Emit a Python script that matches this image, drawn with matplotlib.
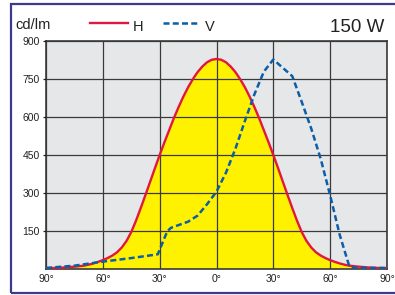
import numpy as np
import matplotlib
matplotlib.use('Agg')
import matplotlib.pyplot as plt
from matplotlib.patches import Rectangle

plt.rcParams['font.family'] = ['Liberation Sans', 'DejaVu Sans']

# data: luminous intensity (cd/klm) vs angle
angle_h = [-90, -85, -80, -75, -70, -67.5, -65, -62.5, -60, -57.5, -55, -52.5, -50, -47.5, -45,
           -42.5, -40, -37.5, -35, -32.5, -30, -27.5, -25, -22.5, -20, -17.5, -15, -12.5, -10,
           -7.5, -5, -2.5, 0, 2.5, 5, 7.5, 10, 12.5, 15, 17.5, 20, 22.5, 25, 27.5, 30, 32.5,
           35, 37.5, 40, 42.5, 45, 47.5, 50, 52.5, 55, 57.5, 60, 62.5, 65, 67.5, 70, 75, 80, 85, 90]
val_h = [2, 3, 5, 8, 12, 16, 21, 27, 34, 42, 52, 65, 84, 110, 145,
         190, 240, 292, 345, 398, 450, 500, 548, 596, 640, 681, 718, 750, 778,
         800, 817, 827, 830, 827, 817, 800, 778, 750, 718, 681, 640, 596, 548, 500, 450, 398,
         345, 292, 240, 190, 145, 110, 84, 65, 52, 42, 34, 27, 21, 16, 12, 8, 5, 3, 2]

angle_v = [-90, -75, -60, -45, -31, -26, -24, -15, -10, -5, 0, 5, 10, 15, 20, 25, 30,
           35, 40, 45, 50, 55, 60, 65, 70, 72, 80, 90]
val_v = [3, 12, 28, 42, 57, 148, 162, 186, 210, 255, 305, 380, 475, 585, 690, 780, 828,
         795, 762, 660, 555, 435, 290, 135, 12, 4, 3, 3]

yticks = [150, 300, 450, 600, 750, 900]
xticks = [-90, -60, -30, 0, 30, 60, 90]
xticklabels = ['90°', '60°', '30°', '0°', '30°', '60°', '90°']

fig = plt.figure(figsize=(3.95, 2.95), dpi=100)
ax = fig.add_axes([46 / 395, 1 - 268.7 / 295, 341 / 395, 227.4 / 295])
ax.set_facecolor('#e6e7e9')

ax.fill_between(angle_h, val_h, 0, color='#fff200', lw=0, zorder=1)
ax.plot(angle_h, val_h, color='#e2173d', lw=1.7, zorder=3)
ax.plot(angle_v, val_v, color='#0b5ea8', lw=1.8, dashes=(2.4, 1.3), zorder=4)

ax.set_xlim(-90, 90)
ax.set_ylim(0, 900)
ax.set_xticks(xticks)
ax.set_xticklabels(xticklabels)
ax.set_yticks(yticks)
ax.grid(True, color='#3a3a3a', lw=0.9)
ax.set_axisbelow(False)
ax.tick_params(axis='x', length=0, pad=4, labelsize=7.5, colors='#222222')
ax.tick_params(axis='y', length=2.5, width=0.9, pad=2, labelsize=7.5, colors='#222222')
for s in ax.spines.values():
    s.set_color('#3a3a3a')
    s.set_linewidth(1.2)

# header texts and legend
fig.text(15 / 395, 1 - 29.3 / 295, 'cd/lm', fontsize=10.5, color='#222222', va='baseline')
fig.add_artist(plt.Line2D([90 / 395, 128 / 395], [1 - 22.7 / 295] * 2, color='#e2173d', lw=1.7))
fig.text(133 / 395, 1 - 30.7 / 295, 'H', fontsize=10.5, color='#222222', va='baseline')
fig.add_artist(plt.Line2D([163 / 395, 200 / 395], [1 - 22.7 / 295] * 2, color='#0b5ea8', lw=1.8,
                          dashes=(2.4, 1.3)))
fig.text(205 / 395, 1 - 30.7 / 295, 'V', fontsize=10.5, color='#222222', va='baseline')
fig.text(384 / 395, 1 - 31.7 / 295, '150 W', fontsize=13.5, color='#222222', va='baseline',
         ha='right')

# outer frame
fig.add_artist(Rectangle((10.5 / 395, 2 / 295), 1.0, 1 - 6 / 295, transform=fig.transFigure,
                         fill=False, ec='#3b3a8f', lw=1.6, clip_on=False))

fig.savefig('out.png', dpi=100)
